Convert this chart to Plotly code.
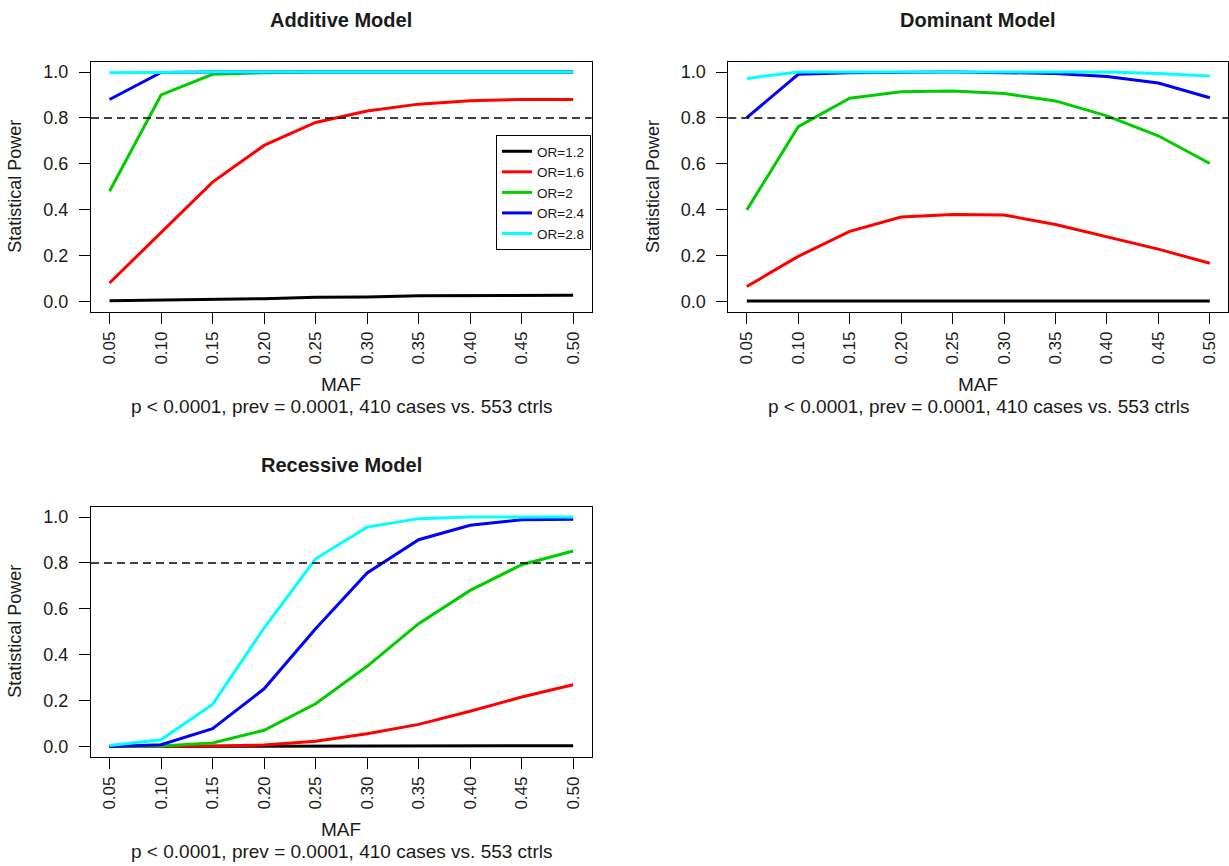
import plotly.graph_objects as go

maf = [0.05, 0.10, 0.15, 0.20, 0.25, 0.30, 0.35, 0.40, 0.45, 0.50]
maf_labels = ["0.05", "0.10", "0.15", "0.20", "0.25", "0.30", "0.35", "0.40", "0.45", "0.50"]
power_ticks = [0.0, 0.2, 0.4, 0.6, 0.8, 1.0]
power_labels = ["0.0", "0.2", "0.4", "0.6", "0.8", "1.0"]
or_names = ["OR=1.2", "OR=1.6", "OR=2", "OR=2.4", "OR=2.8"]
colors = ["#000000", "#FF0000", "#00CD00", "#0000FF", "#00FFFF"]
threshold = 0.8

additive = {
    "OR=1.2": [0.003, 0.005, 0.010, 0.012, 0.018, 0.019, 0.024, 0.025, 0.026, 0.027],
    "OR=1.6": [0.08, 0.30, 0.52, 0.68, 0.78, 0.83, 0.86, 0.875, 0.88, 0.88],
    "OR=2": [0.48, 0.90, 0.99, 0.997, 1.0, 1.0, 1.0, 1.0, 1.0, 1.0],
    "OR=2.4": [0.88, 0.998, 1.0, 1.0, 1.0, 1.0, 1.0, 1.0, 1.0, 1.0],
    "OR=2.8": [0.997, 1.0, 1.0, 1.0, 1.0, 1.0, 1.0, 1.0, 1.0, 1.0],
}
dominant = {
    "OR=1.2": [0.002, 0.002, 0.002, 0.002, 0.002, 0.002, 0.002, 0.002, 0.002, 0.002],
    "OR=1.6": [0.065, 0.196, 0.305, 0.368, 0.379, 0.377, 0.335, 0.280, 0.228, 0.166],
    "OR=2": [0.399, 0.762, 0.886, 0.914, 0.917, 0.906, 0.874, 0.809, 0.722, 0.601],
    "OR=2.4": [0.801, 0.990, 0.997, 1.0, 1.0, 0.997, 0.994, 0.980, 0.952, 0.888],
    "OR=2.8": [0.972, 1.0, 1.0, 1.0, 1.0, 1.0, 1.0, 1.0, 0.994, 0.983],
}
recessive = {
    "OR=1.2": [0.0, 0.0, 0.0, 0.001, 0.002, 0.002, 0.002, 0.003, 0.003, 0.003],
    "OR=1.6": [0.0, 0.0, 0.002, 0.006, 0.022, 0.055, 0.096, 0.153, 0.215, 0.269],
    "OR=2": [0.0, 0.002, 0.015, 0.070, 0.186, 0.349, 0.535, 0.680, 0.792, 0.852],
    "OR=2.4": [0.0, 0.007, 0.077, 0.251, 0.513, 0.756, 0.901, 0.964, 0.988, 0.990],
    "OR=2.8": [0.004, 0.029, 0.183, 0.516, 0.818, 0.956, 0.993, 1.0, 1.0, 1.0],
}

titles = ["Additive Model", "Dominant Model", "Recessive Model"]
subtitle = "p < 0.0001, prev = 0.0001, 410 cases vs. 553 ctrls"

W, H = 1229, 866
FONT = "Liberation Sans, Arial, Helvetica, sans-serif"

# panel boxes in pixels (left, top, right, bottom)
boxes = [(91.0, 61.7, 591.7, 311.7), (728.3, 61.7, 1228.3, 311.7), (91.0, 506.7, 591.7, 756.7)]
datasets = [additive, dominant, recessive]

fig = go.Figure()
annotations = []
shapes = []
for i, (data, box) in enumerate(zip(datasets, boxes)):
    xa = "x" if i == 0 else f"x{i+1}"
    ya = "y" if i == 0 else f"y{i+1}"
    for name, col in zip(or_names, colors):
        fig.add_trace(go.Scatter(
            x=maf, y=data[name], mode="lines", name=name,
            line=dict(color=col, width=3),
            xaxis=xa, yaxis=ya, showlegend=(i == 0),
        ))
    l, t, r, b = box
    xd = [l / W, r / W]
    yd = [1 - b / H, 1 - t / H]
    axis_common = dict(showline=True, linecolor="black", linewidth=1, mirror=True,
                       ticks="outside", ticklen=11, tickwidth=1, tickcolor="black",
                       showgrid=False, zeroline=False)
    fig.layout[f"xaxis{'' if i == 0 else i+1}"] = dict(
        domain=xd, anchor=ya, range=[0.032, 0.518], ticklabelstandoff=1,
        tickfont=dict(family=FONT, size=17, color="#1a1a1a"),
        tickvals=maf, ticktext=maf_labels, tickangle=-90, **axis_common)
    fig.layout[f"yaxis{'' if i == 0 else i+1}"] = dict(
        domain=yd, anchor=xa, range=[-0.045, 1.045], ticklabelstandoff=7,
        tickfont=dict(family=FONT, size=18, color="#1a1a1a"),
        tickvals=power_ticks, ticktext=power_labels, **axis_common)
    shapes.append(dict(type="line", xref=f"{xa} domain", yref=ya, x0=0, x1=1,
                       y0=threshold, y1=threshold,
                       line=dict(color="black", width=1.5, dash="8px,5px")))
    cx = (l + r) / 2
    annotations.append(dict(text=f"<b>{titles[i]}</b>", x=cx / W, y=1 - (t - 41.5) / H,
                            xref="paper", yref="paper", showarrow=False,
                            xanchor="center", yanchor="middle",
                            font=dict(family=FONT, size=20, color="#1a1a1a")))
    annotations.append(dict(text="MAF", x=cx / W, y=1 - (b + 73) / H,
                            xref="paper", yref="paper", showarrow=False,
                            xanchor="center", yanchor="middle",
                            font=dict(family=FONT, size=19, color="#1a1a1a")))
    annotations.append(dict(text=subtitle, x=cx / W, y=1 - (b + 95) / H,
                            xref="paper", yref="paper", showarrow=False,
                            xanchor="center", yanchor="middle",
                            font=dict(family=FONT, size=19, color="#1a1a1a")))
    annotations.append(dict(text="Statistical Power", x=(l - 76) / W, y=1 - ((t + b) / 2) / H,
                            xref="paper", yref="paper", showarrow=False, textangle=-90,
                            xanchor="center", yanchor="middle",
                            font=dict(family=FONT, size=18, color="#1a1a1a")))

fig.update_layout(
    width=W, height=H, margin=dict(l=0, r=0, t=0, b=0),
    paper_bgcolor="white", plot_bgcolor="white",
    annotations=annotations, shapes=shapes,
    legend=dict(x=591 / W, y=1 - 135 / H, xanchor="right", yanchor="top",
                bgcolor="white", bordercolor="black", borderwidth=1,
                font=dict(family=FONT, size=13.5, color="#1a1a1a"),
                tracegroupgap=0, itemwidth=30),
)

fig.write_html("out.html")
